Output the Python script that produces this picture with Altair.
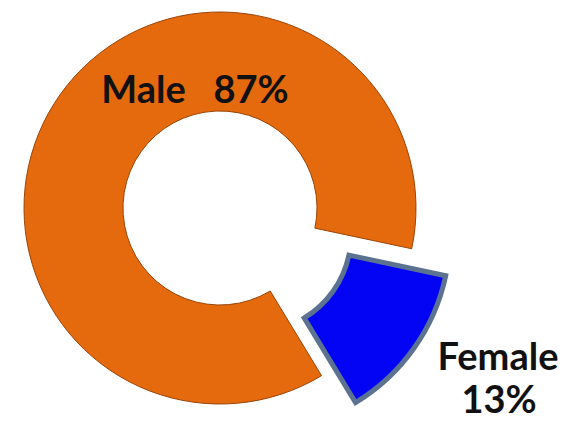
import altair as alt
import pandas as pd
import math

categories = ["Female", "Male"]
values = [13, 87]
pct_labels = ["13%", "87%"]
colors = ["#0404F4", "#E5690D"]

df = pd.DataFrame({"gender": categories, "share": values, "pct": pct_labels, "idx": [0, 1]})

start = math.radians(102)
theta = alt.Theta("share:Q", stack=True, scale=alt.Scale(range=[start, start + 2 * math.pi]))
color_scale = alt.Scale(domain=categories, range=colors)

cx, cy = 212, 200
r_out, r_in = 196, 97

base = alt.Chart(df)

male = base.mark_arc(
    x=cx, y=cy, outerRadius=r_out, innerRadius=r_in,
    stroke="#9a4508", strokeWidth=1,
).encode(
    theta=theta,
    order=alt.Order("idx:Q"),
    color=alt.Color("gender:N", scale=color_scale, legend=None),
    opacity=alt.condition(alt.datum.gender == "Male", alt.value(1), alt.value(0)),
)

female = base.mark_arc(
    x=cx, y=cy, outerRadius=r_out, innerRadius=r_in,
    xOffset=34, yOffset=27,
    stroke="#5B7390", strokeWidth=5, strokeJoin="miter",
).encode(
    theta=theta,
    order=alt.Order("idx:Q"),
    color=alt.Color("gender:N", scale=color_scale, legend=None),
    opacity=alt.condition(alt.datum.gender == "Female", alt.value(1), alt.value(0)),
)

txt = dict(font="Lato", fontWeight="bold", fontSize=38, color="#111111",
           align="center", baseline="alphabetic")

male_label = base.transform_filter(alt.datum.gender == "Male").transform_calculate(
    lab="datum.gender + '\u00a0\u00a0\u00a0' + datum.pct"
).mark_text(x=187, y=95, **txt).encode(text="lab:N")

female_name = base.transform_filter(alt.datum.gender == "Female").mark_text(
    x=490, y=362, **txt).encode(text="gender:N")

female_pct = base.transform_filter(alt.datum.gender == "Female").mark_text(
    x=491, y=405, **txt).encode(text="pct:N")

chart = alt.layer(male, female, male_label, female_name, female_pct).properties(
    width=561, height=414,
    autosize=alt.AutoSizeParams(type="fit", contains="padding"),
    padding=0,
).configure_view(stroke=None).configure(background="white")

chart.save("out.html", embed_options={"renderer": "svg", "actions": False})
